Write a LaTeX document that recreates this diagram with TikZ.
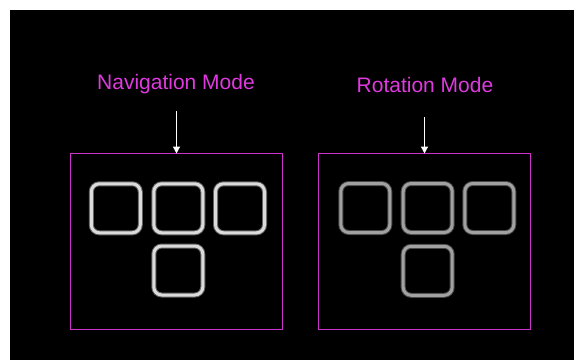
\documentclass[tikz,border=0pt]{standalone}
\usepackage{fontspec}
\setmainfont{Liberation Sans}
\usepackage{xcolor}
\usetikzlibrary{arrows.meta}

\definecolor{modepink}{RGB}{222,58,222}
\definecolor{framepink}{RGB}{205,50,205}

\tikzset{
  modelabel/.style={inner sep=0pt, text=modepink, font=\fontsize{21}{25}\selectfont},
  modebox/.style={draw=framepink, line width=1.2pt, minimum width=212pt, minimum height=176pt, inner sep=0pt, outer sep=0pt},
  modearrow/.style={-{Triangle[width=7pt,length=7pt]}, white, line width=1.3pt},
  keycap/.style={rounded corners=8pt, minimum size=49pt, inner sep=0pt, line width=3pt,
    preaction={draw, line width=5pt, opacity=0.45}},
  navkey/.style={keycap, draw=gray!28},
  rotkey/.style={keycap, draw=gray!74}
}

\begin{document}
\begin{tikzpicture}[x=1pt, y=-1pt]

\useasboundingbox (0,0) rectangle (574,360);
\fill[white] (0,0) rectangle (574,360);
\fill[black] (10,10) rectangle (574,360);

\node[modelabel] (navlabel) at (176,84.5) {Navigation Mode};
\node[modelabel] (rotlabel) at (425,84.5) {Rotation Mode};

\node[modebox] (navbox) at (176.5,241.5) {};
\node[modebox] (rotbox) at (424.5,241.5) {};

\coordinate (navtail) at (176.5,111);
\coordinate (rottail) at (424.5,117);

\draw[modearrow] (navtail) -- (navbox.north);
\draw[modearrow] (rottail) -- (rotbox.north);

\node[navkey] (navleft) at (115.8,208.3) {};
\node[navkey] (navup) at (178.3,208.3) {};
\node[navkey] (navright) at (240,208.3) {};
\node[navkey] (navdown) at (178.3,270.5) {};

\node[rotkey] (rotleft) at (365.3,208) {};
\node[rotkey] (rotup) at (427.7,208) {};
\node[rotkey] (rotright) at (489.3,208) {};
\node[rotkey] (rotdown) at (427.7,270.8) {};

\end{tikzpicture}
\end{document}
